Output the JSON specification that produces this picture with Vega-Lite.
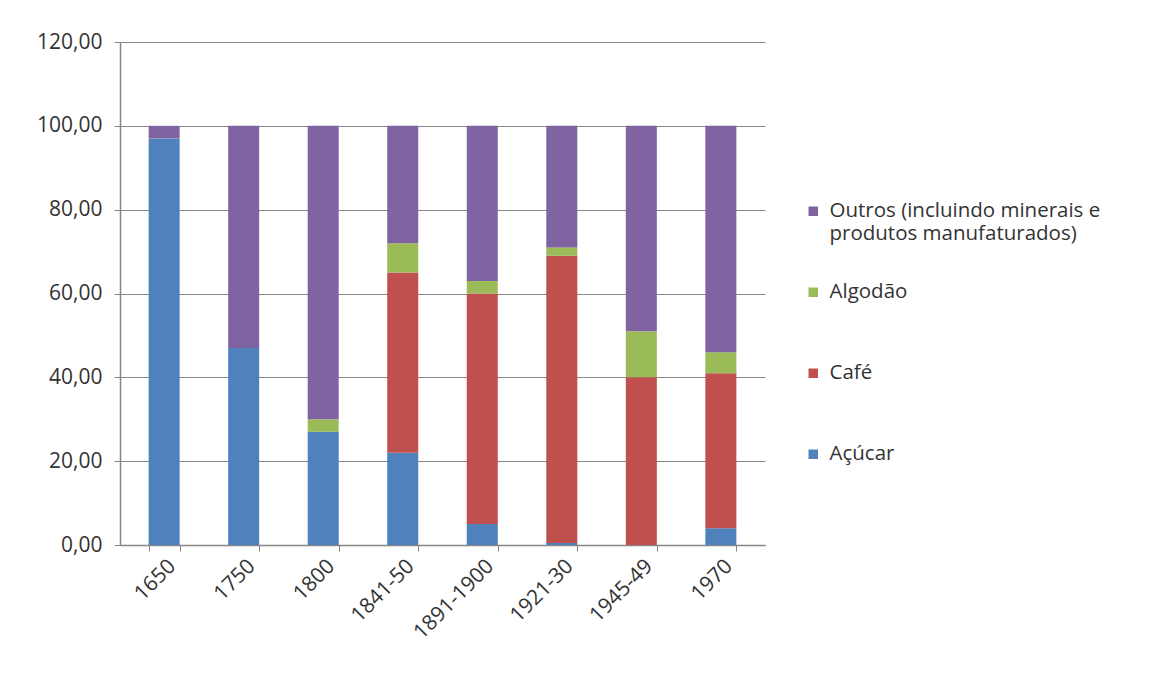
{
  "$schema": "https://vega.github.io/schema/vega-lite/v6.json",
  "width": 645,
  "height": 503,
  "autosize": {"type": "none"},
  "padding": {"left": 120, "top": 42, "right": 387, "bottom": 134},
  "background": "white",
  "config": {
    "view": {"stroke": null},
    "font": "Open Sans",
    "axis": {
      "labelFont": "Open Sans",
      "labelFontSize": 21,
      "labelColor": "#333333",
      "domainColor": "#868686",
      "tickColor": "#868686",
      "gridColor": "#868686",
      "gridOpacity": 1,
      "title": null
    },
    "legend": {
      "labelFont": "Open Sans",
      "labelFontSize": 20.5,
      "labelColor": "#333333",
      "labelLineHeight": 33
    }
  },
  "data": {
    "values": [
      {"periodo": "1650", "produto": "Açúcar", "valor": 97},
      {"periodo": "1650", "produto": "Café", "valor": 0},
      {"periodo": "1650", "produto": "Algodão", "valor": 0},
      {"periodo": "1650", "produto": "Outros (incluindo minerais e produtos manufaturados)", "valor": 3},
      {"periodo": "1750", "produto": "Açúcar", "valor": 47},
      {"periodo": "1750", "produto": "Café", "valor": 0},
      {"periodo": "1750", "produto": "Algodão", "valor": 0},
      {"periodo": "1750", "produto": "Outros (incluindo minerais e produtos manufaturados)", "valor": 53},
      {"periodo": "1800", "produto": "Açúcar", "valor": 27},
      {"periodo": "1800", "produto": "Café", "valor": 0},
      {"periodo": "1800", "produto": "Algodão", "valor": 3},
      {"periodo": "1800", "produto": "Outros (incluindo minerais e produtos manufaturados)", "valor": 70},
      {"periodo": "1841-50", "produto": "Açúcar", "valor": 22},
      {"periodo": "1841-50", "produto": "Café", "valor": 43},
      {"periodo": "1841-50", "produto": "Algodão", "valor": 7},
      {"periodo": "1841-50", "produto": "Outros (incluindo minerais e produtos manufaturados)", "valor": 28},
      {"periodo": "1891-1900", "produto": "Açúcar", "valor": 5},
      {"periodo": "1891-1900", "produto": "Café", "valor": 55},
      {"periodo": "1891-1900", "produto": "Algodão", "valor": 3},
      {"periodo": "1891-1900", "produto": "Outros (incluindo minerais e produtos manufaturados)", "valor": 37},
      {"periodo": "1921-30", "produto": "Açúcar", "valor": 0.5},
      {"periodo": "1921-30", "produto": "Café", "valor": 68.5},
      {"periodo": "1921-30", "produto": "Algodão", "valor": 2},
      {"periodo": "1921-30", "produto": "Outros (incluindo minerais e produtos manufaturados)", "valor": 29},
      {"periodo": "1945-49", "produto": "Açúcar", "valor": 0},
      {"periodo": "1945-49", "produto": "Café", "valor": 40},
      {"periodo": "1945-49", "produto": "Algodão", "valor": 11},
      {"periodo": "1945-49", "produto": "Outros (incluindo minerais e produtos manufaturados)", "valor": 49},
      {"periodo": "1970", "produto": "Açúcar", "valor": 4},
      {"periodo": "1970", "produto": "Café", "valor": 37},
      {"periodo": "1970", "produto": "Algodão", "valor": 5},
      {"periodo": "1970", "produto": "Outros (incluindo minerais e produtos manufaturados)", "valor": 54}
    ]
  },
  "transform": [
    {"calculate": "indexof(['Açúcar', 'Café', 'Algodão', 'Outros (incluindo minerais e produtos manufaturados)'], datum.produto)", "as": "ordem"}
  ],
  "mark": {"type": "bar"},
  "encoding": {
    "x": {
      "field": "periodo",
      "type": "nominal",
      "sort": null,
      "scale": {"paddingInner": 0.61, "paddingOuter": 0.36},
      "axis": {
        "labelAngle": -45,
        "tickBand": "extent",
        "tickSize": 6,
        "labelPadding": 4,
        "domainWidth": 1.5
      }
    },
    "y": {
      "field": "valor",
      "type": "quantitative",
      "stack": "zero",
      "scale": {"domain": [0, 120], "nice": false},
      "axis": {
        "values": [0, 20, 40, 60, 80, 100, 120],
        "labelExpr": "replace(format(datum.value, '.2f'), '.', ',')",
        "tickSize": 6,
        "labelPadding": 12,
        "domainWidth": 1.5,
        "grid": true
      }
    },
    "color": {
      "field": "produto",
      "type": "nominal",
      "scale": {
        "domain": ["Outros (incluindo minerais e produtos manufaturados)", "Algodão", "Café", "Açúcar"],
        "range": ["#8064A2", "#9BBB59", "#C0504D", "#4F81BD"]
      },
      "legend": {
        "title": null,
        "orient": "none",
        "legendX": 683,
        "legendY": 159,
        "symbolType": "square",
        "symbolSize": 90,
        "symbolStrokeWidth": 0,
        "labelOffset": 6,
        "gridAlign": "all",
        "rowPadding": 37,
        "labelLimit": 400,
        "labelExpr": "datum.label == 'Outros (incluindo minerais e produtos manufaturados)' ? ['Outros (incluindo minerais e', 'produtos manufaturados)'] : datum.label"
      }
    },
    "order": {"field": "ordem", "type": "quantitative"}
  }
}
